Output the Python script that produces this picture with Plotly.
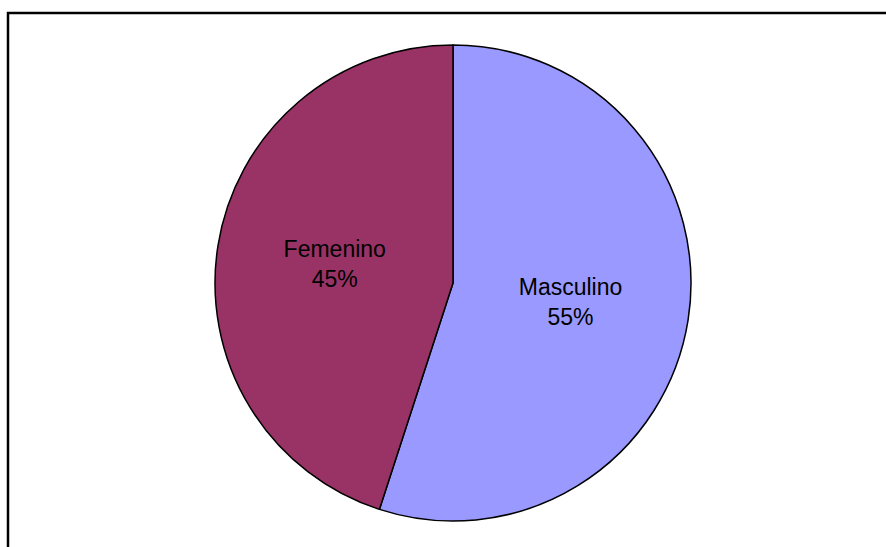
import plotly.graph_objects as go

labels = ["Masculino", "Femenino"]
values = [55, 45]
colors = ["#9999FF", "#993366"]

W, H = 886, 547
fig = go.Figure(go.Pie(
    labels=labels,
    values=values,
    sort=False,
    direction="clockwise",
    rotation=0,
    marker=dict(colors=colors, line=dict(color="black", width=1.5)),
    texttemplate="%{label}<br>%{percent:.0%}",
    textposition="inside",
    insidetextorientation="horizontal",
    textfont=dict(family="Arial, Liberation Sans", size=23, color="black"),
    showlegend=False,
    domain=dict(x=[215 / W, 691 / W], y=[1 - 521 / H, 1 - 45 / H]),
    hoverinfo="label+percent",
))
fig.add_shape(type="rect", xref="paper", yref="paper",
              x0=8 / W, x1=1.01, y0=-0.02, y1=1 - 13 / H,
              line=dict(color="black", width=2.5))
fig.update_layout(width=W, height=H, margin=dict(l=0, r=0, t=0, b=0),
                  paper_bgcolor="white", plot_bgcolor="white",
                  font=dict(family="Arial, Liberation Sans", color="black"))
fig.write_html("out.html", config={"displayModeBar": False},
               post_script="document.body.style.margin='0';document.body.style.overflow='hidden';")
